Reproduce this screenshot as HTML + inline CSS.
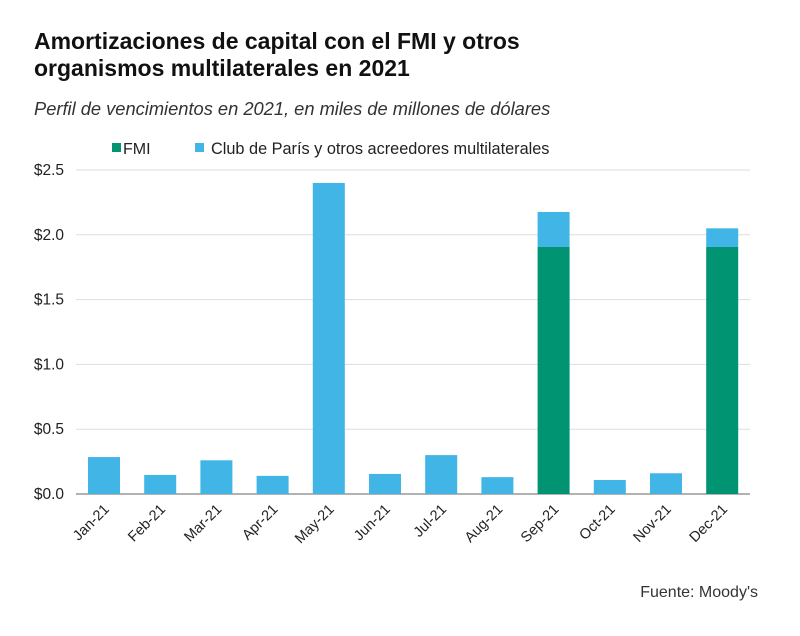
<!DOCTYPE html>
<html><head><meta charset="utf-8"><style>
body{margin:0;background:#fff;font-family:"Liberation Sans",sans-serif;}
#wrap{position:relative;width:800px;height:636px;}
.t{position:absolute;left:34px;top:28px;font-size:23px;font-weight:bold;line-height:27px;color:#111;white-space:nowrap;}
.s{position:absolute;left:34px;top:98px;font-size:18.3px;font-style:italic;color:#333;white-space:nowrap;}
.src{position:absolute;right:42px;top:584px;font-size:16px;color:#333;}
</style></head><body><div id="wrap">
<div class="t">Amortizaciones de capital con el FMI y otros<br>organismos multilaterales en 2021</div>
<div class="s">Perfil de vencimientos en 2021, en miles de millones de dólares</div>
<svg id="c" width="800" height="636" style="position:absolute;left:0;top:0"></svg>
<div class="src">Fuente: Moody's</div>
</div>
<script>
const categories=["Jan-21","Feb-21","Mar-21","Apr-21","May-21","Jun-21","Jul-21","Aug-21","Sep-21","Oct-21","Nov-21","Dec-21"];
const fmiValues=[0,0,0,0,0,0,0,0,1.906,0,0,1.906];
const clubValues=[0.285,0.147,0.26,0.14,2.40,0.155,0.30,0.13,0.27,0.108,0.16,0.144];
const yTicks=[0,0.5,1.0,1.5,2.0,2.5];
const yTickLabels=["$0.0","$0.5","$1.0","$1.5","$2.0","$2.5"];
const svg=document.getElementById('c');const NS='http://www.w3.org/2000/svg';
function y(v){return 494-v*129.6;}
function x(i){return 104+i*56.2;}
function mk(t,a,p){const e=document.createElementNS(NS,t);for(const k in a)e.setAttribute(k,a[k]);(p||svg).appendChild(e);return e;}
yTicks.forEach((v,i)=>{
 const g=mk('line',{x1:76,x2:750,y1:y(v),y2:y(v),stroke:i==0?'#999':'#ddd','stroke-width':i==0?1.5:1});
 
 
 const t=mk('text',{x:64,y:y(v)+5,'text-anchor':'end','font-size':15.5,fill:'#222'});t.textContent=yTickLabels[i];
 
 
});
categories.forEach((c,i)=>{
 const f=fmiValues[i],k=clubValues[i];
 if(f>0){const r=mk('rect',{x:x(i)-16,y:y(f),width:32,height:y(0)-y(f),fill:'#009473'});
 
 }
 const r2=mk('rect',{x:x(i)-16,y:y(f+k),width:32,height:y(f)-y(f+k),fill:'#41b6e6'});
 
 
 const t=mk('text',{x:0,y:0,'text-anchor':'end','font-size':14.5,fill:'#222',transform:`translate(${x(i)+6},${510}) rotate(-45)`});t.textContent=c;
 
 
});
const l1=mk('rect',{x:112,y:143,width:9,height:9,fill:'#009473'});


const lt1=mk('text',{x:123,y:154,'font-size':16,fill:'#222'});lt1.textContent='FMI';


const l2=mk('rect',{x:195,y:143,width:9,height:9,fill:'#41b6e6'});


const lt2=mk('text',{x:211,y:154,'font-size':16.3,fill:'#222'});lt2.textContent='Club de París y otros acreedores multilaterales';


</script></body></html>
